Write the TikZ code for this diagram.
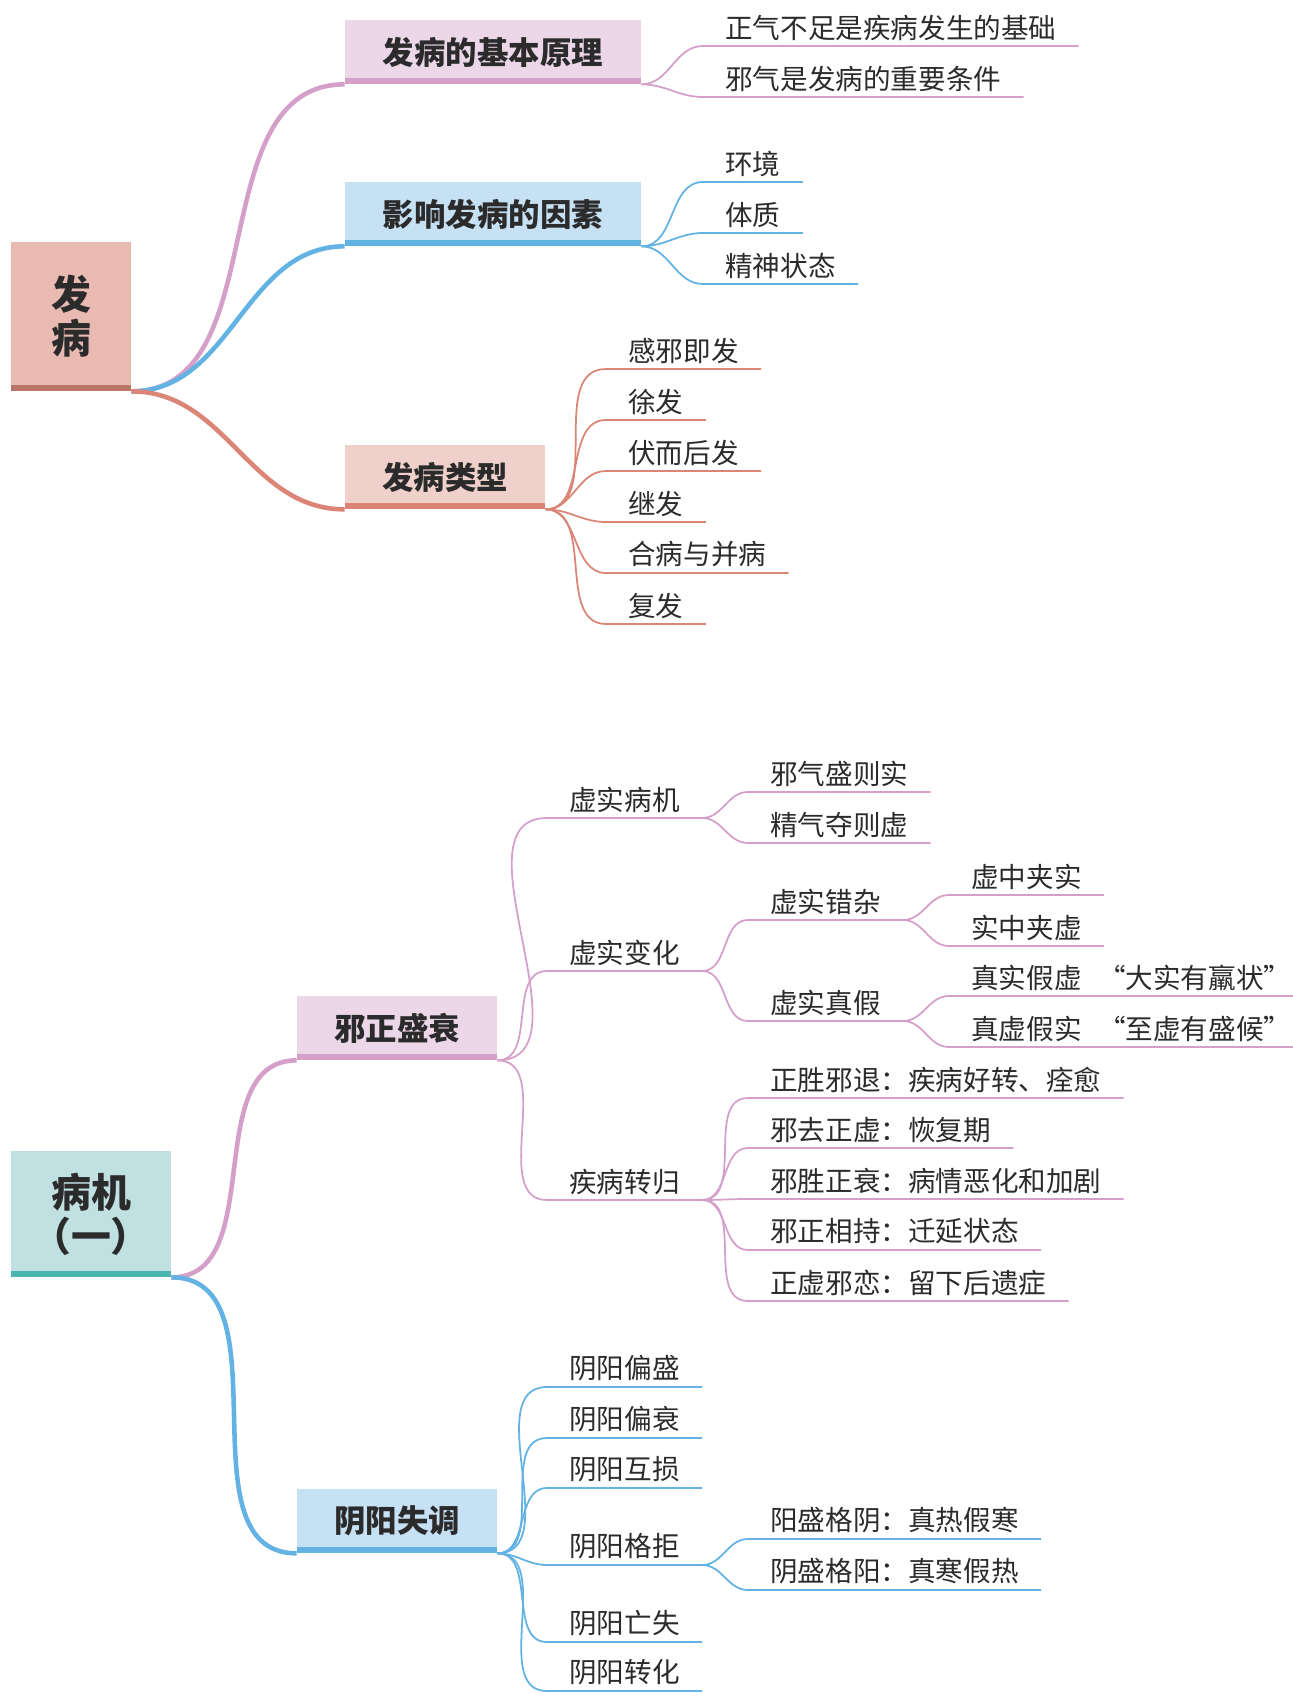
\documentclass[tikz,border=0pt]{standalone}
\usepackage{fontspec}
\newfontfamily\cjk{Noto Sans CJK SC}
\usepackage{tikz}

\definecolor{zi}{HTML}{D4A0CA}
\definecolor{zibg}{HTML}{ECD7E9}
\definecolor{lan}{HTML}{62B2E4}
\definecolor{lanbg}{HTML}{C6E0F4}
\definecolor{hong}{HTML}{DA8576}
\definecolor{hongbg}{HTML}{EFD0CA}
\definecolor{rootbg}{HTML}{E8BAB2}
\definecolor{rootbar}{HTML}{B97568}
\definecolor{qingbg}{HTML}{C0E0E2}
\definecolor{qingbar}{HTML}{4BB6AF}
\definecolor{wenzi}{HTML}{2B2B2B}

\tikzset{
  root/.style={fill=#1, inner sep=0pt, align=center, text=wenzi, font=\cjk\bfseries\fontsize{22.7}{25}\selectfont},
  topic/.style={fill=#1, minimum height=1.28cm, inner sep=0pt, text=wenzi, font=\cjk\bfseries\fontsize{17.9}{20}\selectfont},
  leaf/.style={anchor=south west, inner xsep=0.44cm, inner ysep=3pt, text=wenzi, font=\cjk\fontsize{15.7}{18}\selectfont},
  bar/.style={line width=3.4pt, #1},
  thickln/.style={line width=2.6pt, #1},
  thinln/.style={line width=1pt, #1},
}

\begin{document}
\begin{tikzpicture}[x=0.02cm, y=-0.02cm]

	%\draw[help lines, step=100] (0,0) grid (1293,1693);
	\useasboundingbox (0,0) rectangle (1293,1693);

	\node[root=rootbg, minimum width=2.4cm, minimum height=2.98cm] (r1) at (71,316.5) {发\\病}; % 发病
	\draw[bar=rootbar] ([yshift=1.7pt]r1.south west) -- ([yshift=1.7pt]r1.south east);

	\node[topic=zibg, minimum width=5.92cm] (b1) at (493,52) {发病的基本原理};
	\draw[bar=zi] ([yshift=1.7pt]b1.south west) -- ([yshift=1.7pt]b1.south east);
	\node[topic=lanbg, minimum width=5.92cm] (b2) at (493,214) {影响发病的因素};
	\draw[bar=lan] ([yshift=1.7pt]b2.south west) -- ([yshift=1.7pt]b2.south east);
	\node[topic=hongbg, minimum width=4cm] (b3) at (445,477) {发病类型};
	\draw[bar=hong] ([yshift=1.7pt]b3.south west) -- ([yshift=1.7pt]b3.south east);

	\draw[thickln=zi] (r1.south east) to[out=0,in=180] (b1.south west);
	\draw[thickln=lan] (r1.south east) to[out=0,in=180] (b2.south west);
	\draw[thickln=hong] (r1.south east) to[out=0,in=180] (b3.south west);

	\node[leaf] (b1a) at (703,46) {正气不足是疾病发生的基础}; % 1
	\node[leaf] (b1b) at (703,97) {邪气是发病的重要条件};
	\draw[thinln=zi] (b1.south east) to[out=0,in=180] (b1a.south west) -- (b1a.south east);
	\draw[thinln=zi] (b1.south east) to[out=0,in=180] (b1b.south west) -- (b1b.south east);

	\node[leaf] (b2a) at (703,182) {环境}; % 2
	\node[leaf] (b2b) at (703,233) {体质};
	\node[leaf] (b2c) at (703,284) {精神状态};
	\draw[thinln=lan] (b2.south east) to[out=0,in=180] (b2a.south west) -- (b2a.south east);
	\draw[thinln=lan] (b2.south east) to[out=0,in=180] (b2b.south west) -- (b2b.south east);
	\draw[thinln=lan] (b2.south east) to[out=0,in=180] (b2c.south west) -- (b2c.south east);

	\node[leaf] (b3a) at (606,369) {感邪即发}; % 3
	\node[leaf] (b3b) at (606,420) {徐发};
	\node[leaf] (b3c) at (606,471) {伏而后发};
	\node[leaf] (b3d) at (606,522) {继发};
	\node[leaf] (b3e) at (606,573) {合病与并病};
	\node[leaf] (b3f) at (606,624) {复发};
	\draw[thinln=hong] (b3.south east) to[out=0,in=180] (b3a.south west) -- (b3a.south east);
	\draw[thinln=hong] (b3.south east) to[out=0,in=180] (b3b.south west) -- (b3b.south east);
	\draw[thinln=hong] (b3.south east) to[out=0,in=180] (b3c.south west) -- (b3c.south east);
	\draw[thinln=hong] (b3.south east) to[out=0,in=180] (b3d.south west) -- (b3d.south east);
	\draw[thinln=hong] (b3.south east) to[out=0,in=180] (b3e.south west) -- (b3e.south east);
	\draw[thinln=hong] (b3.south east) to[out=0,in=180] (b3f.south west) -- (b3f.south east);

	\node[root=qingbg, minimum width=3.2cm, minimum height=2.52cm] (r2) at (91,1214) {病机\\（一）}; % 病机
	\draw[bar=qingbar] ([yshift=1.7pt]r2.south west) -- ([yshift=1.7pt]r2.south east);

	\node[topic=zibg, minimum width=4cm] (c1) at (397,1028) {邪正盛衰};
	\draw[bar=zi] ([yshift=1.7pt]c1.south west) -- ([yshift=1.7pt]c1.south east);
	\node[topic=lanbg, minimum width=4cm] (c2) at (397,1521) {阴阳失调};
	\draw[bar=lan] ([yshift=1.7pt]c2.south west) -- ([yshift=1.7pt]c2.south east);

	\draw[thickln=zi] (r2.south east) to[out=0,in=180] (c1.south west);
	\draw[thickln=lan] (r2.south east) to[out=0,in=180] (c2.south west);

	\node[leaf] (c1a) at (547,818) {虚实病机}; % 邪正盛衰
	\node[leaf] (c1b) at (547,971) {虚实变化};
	\node[leaf] (c1c) at (547,1200) {疾病转归};
	\draw[thinln=zi] (c1.south east) to[out=0,in=180] (c1a.south west) -- (c1a.south east);
	\draw[thinln=zi] (c1.south east) to[out=0,in=180] (c1b.south west) -- (c1b.south east);
	\draw[thinln=zi] (c1.south east) to[out=0,in=180] (c1c.south west) -- (c1c.south east);

	\node[leaf] (c1aa) at (748,792) {邪气盛则实};
	\node[leaf] (c1ab) at (748,843) {精气夺则虚};
	\draw[thinln=zi] (c1a.south east) to[out=0,in=180] (c1aa.south west) -- (c1aa.south east);
	\draw[thinln=zi] (c1a.south east) to[out=0,in=180] (c1ab.south west) -- (c1ab.south east);

	\node[leaf] (c1ba) at (748,920) {虚实错杂};
	\node[leaf] (c1bb) at (748,1021) {虚实真假};
	\draw[thinln=zi] (c1b.south east) to[out=0,in=180] (c1ba.south west) -- (c1ba.south east);
	\draw[thinln=zi] (c1b.south east) to[out=0,in=180] (c1bb.south west) -- (c1bb.south east);

	\node[leaf] (c1baa) at (949,895) {虚中夹实};
	\node[leaf] (c1bab) at (949,946) {实中夹虚};
	\draw[thinln=zi] (c1ba.south east) to[out=0,in=180] (c1baa.south west) -- (c1baa.south east);
	\draw[thinln=zi] (c1ba.south east) to[out=0,in=180] (c1bab.south west) -- (c1bab.south east);

	\node[leaf] (c1bba) at (949,996) {真实假虚\hspace{0.6em}“大实有羸状”};
	\node[leaf] (c1bbb) at (949,1047) {真虚假实\hspace{0.6em}“至虚有盛候”};
	\draw[thinln=zi] (c1bb.south east) to[out=0,in=180] (c1bba.south west) -- (c1bba.south east);
	\draw[thinln=zi] (c1bb.south east) to[out=0,in=180] (c1bbb.south west) -- (c1bbb.south east);

	\node[leaf] (c1ca) at (748,1098) {正胜邪退：疾病好转、痊愈};
	\node[leaf] (c1cb) at (748,1148) {邪去正虚：恢复期};
	\node[leaf] (c1cc) at (748,1199) {邪胜正衰：病情恶化和加剧};
	\node[leaf] (c1cd) at (748,1250) {邪正相持：迁延状态};
	\node[leaf] (c1ce) at (748,1301) {正虚邪恋：留下后遗症};
	\draw[thinln=zi] (c1c.south east) to[out=0,in=180] (c1ca.south west) -- (c1ca.south east);
	\draw[thinln=zi] (c1c.south east) to[out=0,in=180] (c1cb.south west) -- (c1cb.south east);
	\draw[thinln=zi] (c1c.south east) to[out=0,in=180] (c1cc.south west) -- (c1cc.south east);
	\draw[thinln=zi] (c1c.south east) to[out=0,in=180] (c1cd.south west) -- (c1cd.south east);
	\draw[thinln=zi] (c1c.south east) to[out=0,in=180] (c1ce.south west) -- (c1ce.south east);

	\node[leaf] (c2a) at (547,1387) {阴阳偏盛}; % 阴阳失调
	\node[leaf] (c2b) at (547,1438) {阴阳偏衰};
	\node[leaf] (c2c) at (547,1488) {阴阳互损};
	\node[leaf] (c2d) at (547,1565) {阴阳格拒};
	\node[leaf] (c2e) at (547,1642) {阴阳亡失};
	\node[leaf] (c2f) at (547,1691) {阴阳转化};
	\draw[thinln=lan] (c2.south east) to[out=0,in=180] (c2a.south west) -- (c2a.south east);
	\draw[thinln=lan] (c2.south east) to[out=0,in=180] (c2b.south west) -- (c2b.south east);
	\draw[thinln=lan] (c2.south east) to[out=0,in=180] (c2c.south west) -- (c2c.south east);
	\draw[thinln=lan] (c2.south east) to[out=0,in=180] (c2d.south west) -- (c2d.south east);
	\draw[thinln=lan] (c2.south east) to[out=0,in=180] (c2e.south west) -- (c2e.south east);
	\draw[thinln=lan] (c2.south east) to[out=0,in=180] (c2f.south west) -- (c2f.south east);

	\node[leaf] (c2da) at (748,1539) {阳盛格阴：真热假寒};
	\node[leaf] (c2db) at (748,1590) {阴盛格阳：真寒假热};
	\draw[thinln=lan] (c2d.south east) to[out=0,in=180] (c2da.south west) -- (c2da.south east);
	\draw[thinln=lan] (c2d.south east) to[out=0,in=180] (c2db.south west) -- (c2db.south east);

\end{tikzpicture}
\end{document}
